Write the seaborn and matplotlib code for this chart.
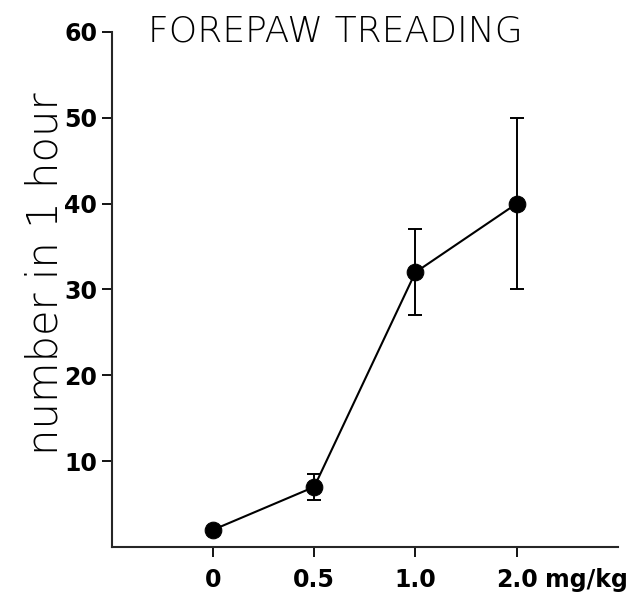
import pandas as pd
import matplotlib.pyplot as plt
import seaborn as sns

# --- Data ---
doses = ['0', '0.5', '1.0', '2.0']
counts = [2, 7, 32, 40]
err_low = [2, 5.5, 27, 30]
err_high = [2, 8.5, 37, 50]

df = pd.DataFrame({'dose': doses, 'count': counts})
df['pos'] = range(len(doses))

# --- Styling ---
sns.set_style("ticks")
plt.rcParams['font.family'] = ['DejaVu Sans']
plt.rcParams['text.color'] = 'black'
plt.rcParams['xtick.color'] = 'black'
plt.rcParams['ytick.color'] = 'black'
plt.rcParams['axes.labelcolor'] = 'black'

fig = plt.figure(figsize=(6.35, 5.92), dpi=100)
ax = fig.add_axes([0.176, 0.076, 0.797, 0.870])

sns.lineplot(data=df, x='pos', y='count', color='black', linewidth=1.5,
             marker='o', markersize=12, markeredgecolor='black', ax=ax)

yerr = [[c - lo for c, lo in zip(counts, err_low)],
        [hi - c for c, hi in zip(counts, err_high)]]
ax.errorbar(df['pos'], df['count'], yerr=yerr, fmt='none', ecolor='black',
            elinewidth=1.4, capsize=5, capthick=1.4)

ax.set_xlim(-1, 4)
ax.set_ylim(0, 60)
ax.set_xticks(df['pos'])
ax.set_xticklabels(doses)
ax.set_yticks([10, 20, 30, 40, 50, 60])
ax.tick_params(axis='both', labelsize=17, width=1.3, length=7)
ax.tick_params(axis='x', pad=8)
for lbl in ax.get_xticklabels() + ax.get_yticklabels():
    lbl.set_fontweight('bold')

sns.despine(ax=ax)
ax.spines['left'].set_linewidth(1.5)
ax.spines['bottom'].set_linewidth(1.5)

ax.set_xlabel('')
ax.set_ylabel('number in 1 hour', fontsize=30, fontweight='light')
ax.yaxis.set_label_coords(-0.092, 0.53)
ax.annotate('mg/kg', xy=(3.28, 0), xycoords=('data', 'axes fraction'),
            xytext=(0, -15), textcoords='offset points',
            fontsize=17, fontweight='bold', va='top', ha='left')

fig.text(0.233, 0.946, 'FOREPAW TREADING', fontsize=26, va='center', ha='left',
         fontweight='light')

fig.savefig('out.png', dpi=100)
